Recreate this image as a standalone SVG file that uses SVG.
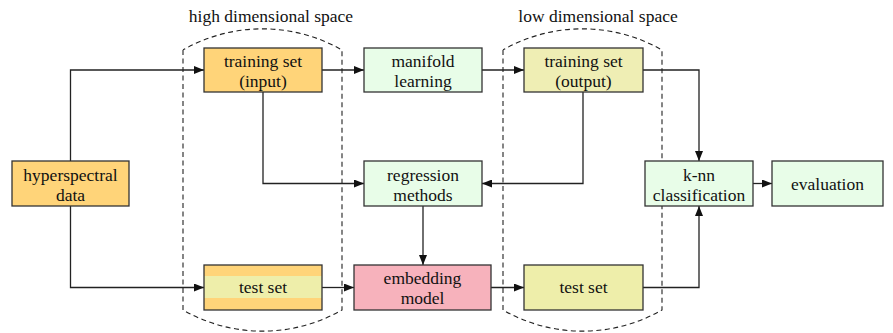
<svg xmlns="http://www.w3.org/2000/svg" width="893" height="333" viewBox="0 0 893 333" font-family="'Liberation Serif', 'Times New Roman', serif">
<defs>
<style>
.box{stroke:#333;stroke-width:1.3}
.orange{fill:#FFD479}
.green{fill:#E8FDE8}
.yellow{fill:#EFEEB4}
.pink{fill:#F7B2BC}
text{font-family:'Liberation Serif','Times New Roman',serif;font-size:17.5px;fill:#111;text-anchor:middle}
.conn{fill:none;stroke:#222;stroke-width:1.3;marker-end:url(#arr)}
.dash{fill:none;stroke:#222;stroke-width:1.1;stroke-dasharray:5,3.5}
</style>
<marker id="arr" viewBox="0 0 10 8" refX="10" refY="4" markerWidth="10" markerHeight="8" markerUnits="userSpaceOnUse" orient="auto">
<path d="M0,0 L10,4 L0,8 Z" fill="#111"/>
</marker>
</defs>
<rect width="893" height="333" fill="#fff"/>

<g id="space-high">
<path class="dash" d="M183,50 L183,310 A160,160 0 0 0 342,310 L342,50 A160,160 0 0 0 183,50"/>
<text x="271" y="22">high dimensional space</text>
</g>
<g id="space-low">
<path class="dash" d="M503,50 L503,310 A160,160 0 0 0 662,310 L662,50 A160,160 0 0 0 503,50"/>
<text x="598" y="22">low dimensional space</text>
</g>

<g id="connectors">
<path class="conn" d="M70.5,161 L70.5,70 L204,70"/>
<path class="conn" d="M70.5,206 L70.5,287.5 L204,287.5"/>
<path class="conn" d="M322,70 L364,70"/>
<path class="conn" d="M482,70 L524,70"/>
<path class="conn" d="M263,92 L263,183.5 L364,183.5"/>
<path class="conn" d="M583,92 L583,183.5 L482,183.5"/>
<path class="conn" d="M643,70 L699,70 L699,161"/>
<path class="conn" d="M423,206 L423,265"/>
<path class="conn" d="M322,287.5 L354,287.5"/>
<path class="conn" d="M491,287.5 L524,287.5"/>
<path class="conn" d="M643,287.5 L699,287.5 L699,206"/>
<path class="conn" d="M753,183.5 L772,183.5"/>
</g>

<g id="hyperspectral">
<rect class="box orange" x="12" y="161" width="117" height="45"/>
<text x="70.5" y="180.5">hyperspectral</text>
<text x="70.5" y="200.5">data</text>
</g>
<g id="training-input">
<rect class="box orange" x="204" y="48" width="118" height="44"/>
<text x="263" y="66.5">training set</text>
<text x="263" y="87">(input)</text>
</g>
<g id="test-input">
<rect class="orange" x="204" y="265" width="118" height="45"/>
<rect x="204" y="276" width="118" height="22" fill="#EEEEAA"/>
<rect class="box" x="204" y="265" width="118" height="45" fill="none"/>
<text x="263" y="293">test set</text>
</g>
<g id="manifold">
<rect class="box green" x="364" y="48" width="118" height="44"/>
<text x="423" y="66.5">manifold</text>
<text x="423" y="87">learning</text>
</g>
<g id="regression">
<rect class="box green" x="364" y="161" width="118" height="45"/>
<text x="423" y="180.5">regression</text>
<text x="423" y="200.5">methods</text>
</g>
<g id="embedding">
<rect class="box pink" x="354" y="265" width="137" height="45"/>
<text x="422.5" y="284">embedding</text>
<text x="422.5" y="304">model</text>
</g>
<g id="training-output">
<rect class="box yellow" x="524" y="48" width="119" height="44"/>
<text x="583.5" y="66.5">training set</text>
<text x="583.5" y="87">(output)</text>
</g>
<g id="test-output">
<rect class="box" x="524" y="265" width="119" height="45" fill="#EEEEAA"/>
<text x="583.5" y="293">test set</text>
</g>
<g id="knn">
<rect class="box green" x="645" y="161" width="108" height="45"/>
<text x="699" y="180.5">k-nn</text>
<text x="699" y="200.5">classification</text>
</g>
<g id="evaluation">
<rect class="box green" x="772" y="161" width="111" height="45"/>
<text x="827.5" y="189.5">evaluation</text>
</g>
</svg>
